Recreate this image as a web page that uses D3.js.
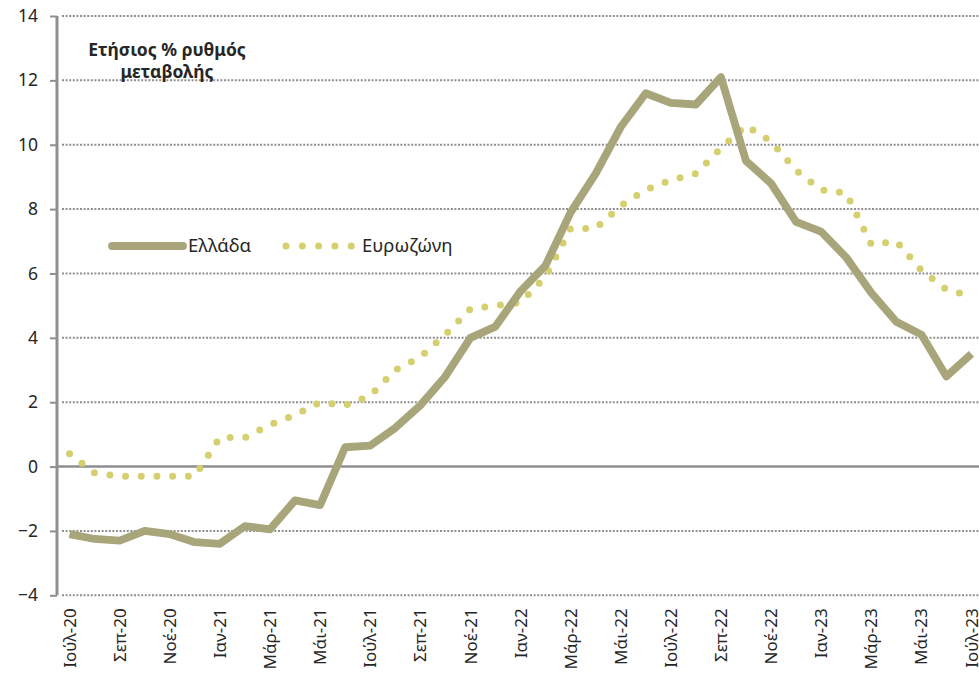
<!DOCTYPE html>
<html>
<head>
<meta charset="utf-8">
<script src="https://cdn.jsdelivr.net/npm/d3@7"></script>
<style>
  body { margin: 0; background: #fff; }
  svg { display: block; font-family: "Noto Sans", sans-serif; }
</style>
</head>
<body>
<svg id="chart" width="979" height="678"></svg>
<script>
const months = [
  'Ιούλ-20', 'Αύγ-20', 'Σεπ-20', 'Οκτ-20', 'Νοέ-20', 'Δεκ-20',
  'Ιαν-21', 'Φεβ-21', 'Μάρ-21', 'Απρ-21', 'Μάι-21', 'Ιούν-21',
  'Ιούλ-21', 'Αύγ-21', 'Σεπ-21', 'Οκτ-21', 'Νοέ-21', 'Δεκ-21',
  'Ιαν-22', 'Φεβ-22', 'Μάρ-22', 'Απρ-22', 'Μάι-22', 'Ιούν-22',
  'Ιούλ-22', 'Αύγ-22', 'Σεπ-22', 'Οκτ-22', 'Νοέ-22', 'Δεκ-22',
  'Ιαν-23', 'Φεβ-23', 'Μάρ-23', 'Απρ-23', 'Μάι-23', 'Ιούν-23',
  'Ιούλ-23'
];

const greece = [
  -2.1, -2.25, -2.3, -2.0, -2.1, -2.35,
  -2.4, -1.85, -1.95, -1.05, -1.2, 0.6,
  0.65, 1.2, 1.9, 2.8, 4.0, 4.35,
  5.45, 6.25, 7.9, 9.1, 10.55, 11.6,
  11.3, 11.25, 12.1, 9.5, 8.8, 7.6,
  7.3, 6.5, 5.4, 4.5, 4.1, 2.8,
  3.5
];

const eurozone = [
  0.4, -0.2, -0.3, -0.3, -0.3, -0.3,
  0.9, 0.9, 1.3, 1.6, 2.0, 1.9,
  2.2, 3.0, 3.4, 4.1, 4.9, 5.0,
  5.1, 5.9, 7.4, 7.4, 8.1, 8.6,
  8.9, 9.1, 9.9, 10.6, 10.1, 9.2,
  8.6, 8.5, 6.9, 7.0, 6.1, 5.5,
  5.3
];

const yTicks = [-4, -2, 0, 2, 4, 6, 8, 10, 12, 14];
const seriesNames = ['Ελλάδα', 'Ευρωζώνη'];
const titleLines = ['Ετήσιος % ρυθμός', 'μεταβολής'];

const greeceColor = '#a9a57b';
const euroColor = '#d6cf6f';
const axisColor = '#8f8f8f';
const textColor = '#262626';

const svg = d3.select('#chart');
const plotLeft = 57, plotRight = 984, plotTop = 16, plotBottom = 595.3;

const x = d3.scalePoint().domain(months).range([plotLeft, plotRight]).padding(0.5);
const y = d3.scaleLinear().domain([-4, 14]).range([plotBottom, plotTop]);

// gridlines (dotted)
svg.append('g')
  .selectAll('line')
  .data(yTicks.filter(d => d !== 0))
  .join('line')
  .attr('x1', plotLeft + 5)
  .attr('x2', 979)
  .attr('y1', d => y(d))
  .attr('y2', d => y(d))
  .attr('stroke', axisColor)
  .attr('stroke-width', 2)
  .attr('stroke-dasharray', '2,1.6');

// y axis with ticks on the left
const yAxis = d3.axisLeft(y).tickValues(yTicks).tickSize(7).tickPadding(12);
const yg = svg.append('g').attr('transform', `translate(${plotLeft},0)`).call(yAxis);
yg.select('.domain').remove();
yg.selectAll('.tick line').attr('stroke', axisColor).attr('stroke-width', 2);
yg.selectAll('.tick text')
  .attr('fill', textColor)
  .style('font-size', '17.5px')
  .style('font-family', '"Noto Sans", sans-serif');

svg.append('line')
  .attr('x1', plotLeft).attr('x2', plotLeft)
  .attr('y1', plotTop).attr('y2', plotBottom)
  .attr('stroke', axisColor)
  .attr('stroke-width', 3);

// zero line
svg.append('line')
  .attr('x1', plotLeft).attr('x2', 979)
  .attr('y1', y(0)).attr('y2', y(0))
  .attr('stroke', axisColor)
  .attr('stroke-width', 2.5);

// x labels, every second month, rotated
const xAxis = d3.axisBottom(x)
  .tickValues(months.filter((d, i) => i % 2 === 0))
  .tickSize(0)
  .tickPadding(0);
const xg = svg.append('g').attr('transform', `translate(0,${plotBottom})`).call(xAxis);
xg.select('.domain').remove();
xg.selectAll('.tick text')
  .attr('fill', textColor)
  .style('font-size', '17px')
  .style('font-family', '"Noto Sans", sans-serif')
  .attr('text-anchor', 'end')
  .attr('dy', '0.33em')
  .attr('transform', 'translate(0,13) rotate(-90)')
  .attr('x', 0)
  .attr('y', 0);

const line = d3.line()
  .x((d, i) => x(months[i]))
  .y(d => y(d));

// eurozone: round-dot line
svg.append('path')
  .datum(eurozone)
  .attr('d', line)
  .attr('fill', 'none')
  .attr('stroke', euroColor)
  .attr('stroke-width', 7)
  .attr('stroke-linecap', 'round')
  .attr('stroke-dasharray', '0,15.7');

// greece: thick solid line
svg.append('path')
  .datum(greece)
  .attr('d', line)
  .attr('fill', 'none')
  .attr('stroke', greeceColor)
  .attr('stroke-width', 7.8)
  .attr('stroke-linejoin', 'round');

// legend
const legend = svg.append('g');
legend.append('line')
  .attr('x1', 112).attr('x2', 183)
  .attr('y1', 246).attr('y2', 246)
  .attr('stroke', greeceColor)
  .attr('stroke-width', 7.8)
  .attr('stroke-linecap', 'round');
legend.append('text')
  .attr('x', 188).attr('y', 246)
  .attr('dy', '0.35em')
  .attr('fill', textColor)
  .style('font-size', '18.5px')
  .text(seriesNames[0]);
legend.append('line')
  .attr('x1', 286).attr('x2', 352)
  .attr('y1', 246).attr('y2', 246)
  .attr('stroke', euroColor)
  .attr('stroke-width', 7)
  .attr('stroke-linecap', 'round')
  .attr('stroke-dasharray', '0,16.3');
legend.append('text')
  .attr('x', 362).attr('y', 246)
  .attr('dy', '0.35em')
  .attr('fill', textColor)
  .style('font-size', '18.5px')
  .text(seriesNames[1]);

// axis title
svg.append('text')
  .attr('x', 167).attr('y', 56)
  .attr('text-anchor', 'middle')
  .attr('fill', textColor)
  .style('font-size', '17.5px')
  .style('font-weight', 'bold')
  .selectAll('tspan')
  .data(titleLines)
  .join('tspan')
  .attr('x', 167)
  .attr('dy', (d, i) => i === 0 ? 0 : 22)
  .text(d => d);
</script>
</body>
</html>
